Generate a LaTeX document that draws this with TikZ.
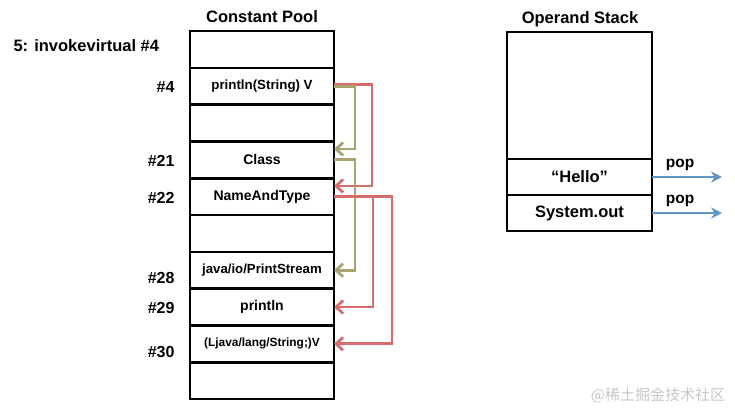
\documentclass[tikz,border=0pt]{standalone}
\usepackage{fontspec}
\setmainfont{Liberation Sans}
\newfontfamily\cjkfont{Noto Sans CJK SC}
\usetikzlibrary{arrows.meta}

\definecolor{linkolive}{RGB}{168,163,112}
\definecolor{linkred}{RGB}{214,108,108}
\definecolor{popblue}{RGB}{96,148,198}

\begin{document}
\begin{tikzpicture}[x=1pt, y=-1pt,
		every node/.append style={font=\bfseries\fontsize{14}{16}\selectfont},
		cell/.style={draw, line width=2.6pt, outer sep=0pt, inner sep=0pt,
			minimum width=144pt, minimum height=36.8pt},
		stackcell/.style={draw, line width=2.6pt, outer sep=0pt, inner sep=0pt,
			minimum width=145pt},
		heading/.style={font=\bfseries\fontsize{16.5}{18}\selectfont},
		index/.style={anchor=east, font=\bfseries\fontsize{16}{18}\selectfont},
		link/.style={line width=2.8pt, -{Straight Barb[length=7pt,width=13pt]}},
		poparrow/.style={line width=2.8pt, popblue, -{Stealth[length=11pt,width=11pt]}}]
		\useasboundingbox (0,0) rectangle (735,413);

		\node[heading] (cptitle) at (262,17) {Constant Pool};
		\node[heading] (ostitle) at (580,19) {Operand Stack};
		\node[heading, anchor=west] (instr) at (10,46) {5: invokevirtual \#4};

		% constant pool
		\node[cell] (cp0) at (262,49.4) {};
		\node[cell] (cp1) at (262,86.2) {\fontsize{13.3}{15}\selectfont println(String) V};
		\node[cell] (cp2) at (262,123) {};
		\node[cell] (cp3) at (262,159.8) {Class};
		\node[cell] (cp4) at (262,196.6) {NameAndType};
		\node[cell] (cp5) at (262,233.4) {};
		\node[cell] (cp6) at (262,270.2) {\fontsize{13.2}{15}\selectfont java/io/PrintStream};
		\node[cell] (cp7) at (262,307) {println};
		\node[cell] (cp8) at (262,343.8) {\fontsize{11.9}{14}\selectfont (Ljava/lang/String;)V};
		\node[cell] (cp9) at (262,380.6) {};

		\node[index] (i4) at (178,86.7) {\#4};
		\node[index] (i21) at (178,161) {\#21};
		\node[index] (i22) at (178,197.5) {\#22};
		\node[index] (i28) at (178,277.5) {\#28};
		\node[index] (i29) at (178,308) {\#29};
		\node[index] (i30) at (178,351.5) {\#30};

		% references between entries
		\draw[link, linkred] ([yshift=1.5pt]cp1.east) -- ++(38,0) |- ([yshift=10.6pt]cp4.east);
		\draw[link, linkolive] (cp1.east) -- ++(21,0) |- ([yshift=10.8pt]cp3.east);
		\draw[link, linkolive] (cp3.east) -- ++(21,0) |- (cp6.east);
		\draw[link, linkred] (cp4.east) -- ++(39,0) |- (cp7.east);
		\draw[link, linkred] (cp4.east) -- ++(58,0) |- (cp8.east);

		% operand stack
		\node[stackcell, minimum height=127pt] (os0) at (579.5,95.5) {};
		\node[stackcell, minimum height=36pt, heading] (os1) at (579.5,177) {“Hello”};
		\node[stackcell, minimum height=36pt, heading] (os2) at (579.5,213) {System.out};

		\coordinate (pop1) at (722,177);
		\coordinate (pop2) at (722,213);
		\draw[poparrow] (os1.east) -- (pop1) node[pos=0.4, above=2pt, font=\bfseries\fontsize{15.5}{17}\selectfont, black] {pop};
		\draw[poparrow] (os2.east) -- (pop2) node[pos=0.4, above=2pt, font=\bfseries\fontsize{15.5}{17}\selectfont, black] {pop};

		\node[text=black!22, font=\cjkfont\fontsize{15}{17}\selectfont] (mark) at (658,395) {@稀土掘金技术社区};
\end{tikzpicture}
\end{document}
